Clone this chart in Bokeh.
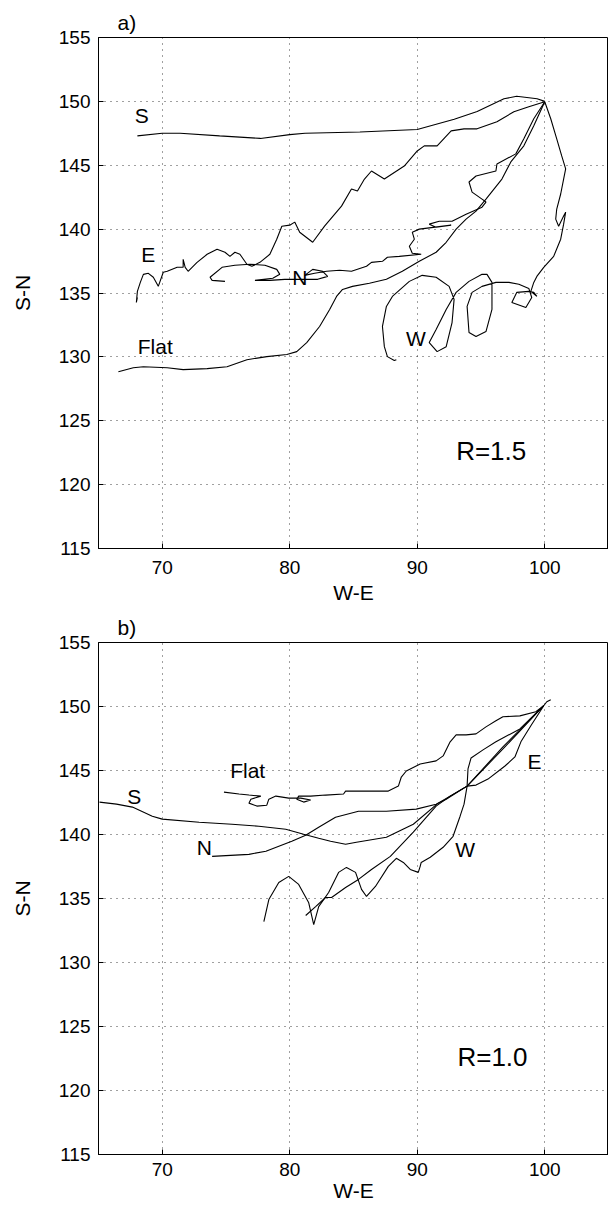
from bokeh.plotting import figure
from bokeh.layouts import column
from bokeh.models import Range1d, FixedTicker
from bokeh.embed import file_html
from bokeh.resources import INLINE
from bokeh.core.properties import value

FONT = "Liberation Sans"
X_TICKS = [70, 80, 90, 100]
Y_TICKS = [115, 120, 125, 130, 135, 140, 145, 150, 155]
X_RANGE = (65, 105)
Y_RANGE = (115, 155)

# ---------------- panel a) R=1.5 : trajectories (W-E, S-N) ----------------
a_S = [(100.0, 150.0), (99.4, 150.2), (97.8, 150.4), (96.8, 150.2), (94.7, 149.2), (92.9, 148.6),
       (90.0, 147.8), (85.5, 147.6), (81.2, 147.5), (80.0, 147.4), (77.7, 147.1), (74.5, 147.3),
       (71.4, 147.5), (70.0, 147.5), (68.05, 147.3)]
a_E = [(100.0, 149.97), (98.75, 149.58), (97.58, 149.19), (96.25, 148.40), (94.69, 147.85), (93.67, 147.85),
       (92.66, 147.69), (91.56, 146.52), (90.55, 146.52), (90.0, 146.12), (88.98, 144.94), (87.42, 143.92),
       (86.41, 144.55), (85.86, 143.92), (85.31, 142.98), (84.84, 143.14), (84.06, 141.80), (82.73, 140.23),
       (81.80, 138.97), (80.78, 139.76), (80.39, 140.55), (80.0, 140.31), (79.38, 140.23), (78.98, 139.21),
       (78.44, 138.03), (77.66, 137.40), (77.03, 137.09), (76.64, 137.25), (76.09, 138.03), (75.70, 138.19),
       (75.31, 137.87), (74.92, 138.19), (74.30, 138.42), (73.52, 138.03), (72.73, 137.40), (72.03, 136.70),
       (71.80, 137.01), (71.64, 137.64), (71.64, 137.01), (71.17, 137.01), (70.39, 136.70), (70.08, 136.62),
       (69.69, 135.52), (69.30, 136.23), (68.91, 136.54), (68.52, 136.46), (68.28, 135.83), (68.05, 135.13),
       (67.97, 134.26), (68.05, 134.65)]
a_N = [(100.0, 149.97), (99.14, 148.64), (98.36, 147.07), (97.73, 145.89), (96.25, 145.10), (96.17, 144.55),
       (94.61, 144.16), (94.06, 143.69), (94.30, 142.90), (95.08, 142.35), (95.39, 142.12), (95.08, 141.72),
       (93.83, 141.17), (92.73, 140.62), (91.72, 140.62), (90.94, 140.39), (91.48, 140.15), (92.66, 140.31),
       (90.16, 140.0), (89.61, 139.76), (89.77, 139.21), (89.38, 138.66), (89.61, 138.11), (90.31, 138.03),
       (88.59, 137.87), (87.66, 137.80), (87.27, 137.48), (86.41, 137.40), (86.02, 137.09), (84.84, 136.70),
       (83.91, 136.78), (82.89, 136.70), (81.95, 136.54), (81.17, 136.38), (81.80, 136.85), (82.58, 136.70),
       (82.97, 136.30), (82.19, 136.07), (80.78, 136.07), (79.61, 136.07), (78.44, 135.99), (77.27, 135.99),
       (78.67, 136.15), (79.22, 136.46), (78.98, 136.85), (78.05, 137.17), (76.88, 137.25), (75.70, 137.17),
       (74.69, 137.01), (73.75, 136.23), (73.91, 135.99), (74.92, 135.91)]
a_Flat = [(100.0, 149.97), (99.14, 148.09), (98.36, 146.52), (97.34, 145.26), (96.64, 143.92), (95.39, 142.35),
          (94.61, 141.41), (93.83, 140.78), (93.05, 140.0), (92.27, 138.97), (91.48, 138.19), (90.16, 137.48),
          (88.83, 136.70), (87.58, 136.07), (86.25, 135.76), (84.92, 135.52), (84.14, 135.28), (83.67, 134.73),
          (83.13, 133.71), (82.34, 132.38), (81.33, 131.12), (80.55, 130.41), (79.77, 130.18), (78.20, 130.02),
          (76.64, 129.78), (75.08, 129.23), (73.52, 129.08), (71.64, 129.0), (70.39, 129.15), (68.52, 129.23),
          (67.73, 129.15), (66.56, 128.84)]
a_W = [(100.0, 149.97), (100.47, 148.64), (100.94, 147.07), (101.33, 145.73), (101.64, 144.71), (101.48, 143.92),
       (101.25, 142.75), (100.94, 141.57), (100.86, 140.78), (101.09, 140.23), (101.48, 141.02), (101.64, 141.33),
       (101.48, 140.39), (101.25, 139.21), (100.70, 137.87), (99.92, 137.01), (99.38, 136.30), (99.14, 135.83),
       (98.91, 135.13), (99.38, 134.73), (99.14, 135.05), (98.75, 135.13), (97.81, 135.05), (97.42, 134.26),
       (98.52, 133.87), (98.98, 134.65), (98.75, 135.36), (97.97, 135.68), (97.19, 135.83), (96.17, 135.83),
       (95.08, 135.52), (94.30, 135.05), (93.91, 133.95), (94.06, 131.91), (94.61, 131.59), (95.39, 131.98),
       (95.86, 133.71), (95.86, 135.83), (95.47, 136.46), (95.08, 136.46), (94.06, 135.91), (93.05, 135.05),
       (92.27, 133.71), (91.48, 132.14), (90.94, 131.12), (91.56, 130.41), (92.27, 130.80), (92.73, 132.69),
       (92.89, 134.50), (92.50, 135.52), (91.48, 136.23), (90.39, 136.38), (89.38, 135.91), (88.05, 134.73),
       (87.58, 133.95), (87.27, 132.38), (87.42, 130.80), (87.66, 130.02), (88.20, 129.71), (88.36, 129.78)]

a_label_text = ["S", "E", "N", "Flat", "W"]
a_label_x = [68.4, 68.9, 80.8, 69.45, 89.9]
a_label_y = [148.9, 138.0, 136.2, 130.8, 131.4]
a_note = ("R=1.5", 95.8, 122.6)

# ---------------- panel b) R=1.0 ----------------
b_S = [(100.47, 150.53), (100.16, 150.37), (99.92, 150.06), (96.95, 146.92), (93.91, 143.78), (91.64, 142.45),
       (89.69, 140.80), (87.58, 139.78), (85.23, 139.39), (84.38, 139.24), (83.20, 139.47), (82.27, 139.71),
       (81.09, 140.02), (79.69, 140.41), (77.58, 140.65), (75.47, 140.80), (72.89, 140.96), (70.0, 141.20),
       (69.22, 141.43), (67.66, 142.14), (66.41, 142.37), (65.08, 142.53)]
b_N = [(99.92, 150.06), (96.72, 146.84), (93.91, 143.78), (92.27, 142.76), (91.48, 142.37), (89.92, 141.98),
       (87.58, 141.82), (85.39, 141.82), (83.59, 141.35), (82.27, 140.57), (81.25, 139.94), (80.16, 139.47),
       (78.13, 138.69), (76.80, 138.45), (73.91, 138.29)]
b_E = [(99.92, 150.06), (98.91, 148.49), (98.13, 147.24), (97.66, 146.06), (96.88, 145.35), (95.55, 144.33),
       (94.61, 143.86), (93.91, 143.78), (92.58, 143.0), (91.48, 142.22), (89.69, 140.18), (87.89, 138.29),
       (86.41, 137.27), (85.39, 136.49), (84.38, 135.86), (83.28, 135.08), (82.81, 135.08), (82.03, 134.37),
       (81.25, 133.67)]
b_W = [(99.92, 150.06), (98.05, 148.25), (96.17, 147.24), (95.16, 146.61), (94.22, 145.98), (93.98, 145.12),
       (93.91, 143.78), (93.67, 142.37), (93.36, 141.43), (92.81, 139.86), (92.03, 139.0), (91.02, 138.22),
       (90.31, 137.82), (90.23, 137.51), (90.08, 137.04), (89.45, 137.27), (88.91, 137.82), (88.36, 138.14),
       (87.73, 137.51), (86.72, 135.94), (86.02, 135.16), (85.63, 135.71), (85.16, 137.04), (84.45, 137.43),
       (83.83, 137.04), (83.05, 135.47), (82.27, 134.37), (81.88, 132.96), (81.48, 134.69), (80.70, 136.10),
       (79.92, 136.73), (79.14, 136.25), (78.36, 134.92), (77.97, 133.20)]
b_Flat = [(99.92, 150.06), (99.30, 149.59), (98.05, 149.27), (96.72, 149.20), (96.17, 148.88), (95.39, 148.41),
          (94.61, 147.86), (93.83, 147.78), (93.05, 147.78), (92.58, 147.24), (92.03, 146.14), (91.48, 145.75),
          (90.23, 145.51), (89.14, 144.96), (88.75, 144.49), (88.52, 143.78), (87.73, 143.39), (86.33, 143.39),
          (84.38, 143.39), (84.22, 143.16), (82.81, 143.08), (81.64, 143.0), (80.70, 143.0), (80.55, 142.76),
          (81.09, 142.53), (81.64, 142.69), (80.86, 142.84), (79.92, 142.84), (78.91, 143.0), (78.36, 142.76),
          (78.20, 142.29), (77.42, 142.22), (76.80, 142.45), (76.95, 142.76), (77.73, 143.0), (76.80, 143.08),
          (76.02, 143.16), (74.84, 143.31)]

b_label_text = ["S", "Flat", "N", "E", "W"]
b_label_x = [67.8, 76.7, 73.3, 99.2, 93.75]
b_label_y = [143.0, 145.0, 139.0, 145.7, 138.8]
b_note = ("R=1.0", 95.9, 122.6)


def panel(tag, tracks, lab_x, lab_y, lab_t, note, height, top, tick_standoff, label_standoff):
    p = figure(width=608, height=height, x_range=Range1d(*X_RANGE), y_range=Range1d(*Y_RANGE),
               output_backend="svg", toolbar_location=None, title=tag,
               min_border_left=98, min_border_right=0, min_border_top=top, min_border_bottom=0)
    p.title.align = "left"
    p.title.offset = 19
    p.title.standoff = 7
    p.title.text_font = FONT
    p.title.text_font_size = "21px"
    p.title.text_font_style = "normal"
    p.title.text_color = "black"

    p.xaxis.ticker = FixedTicker(ticks=X_TICKS)
    p.yaxis.ticker = FixedTicker(ticks=Y_TICKS)
    p.xgrid.ticker = FixedTicker(ticks=X_TICKS)
    p.ygrid.ticker = FixedTicker(ticks=Y_TICKS)
    p.xaxis.axis_label = "W-E"
    p.yaxis.axis_label = "S-N"
    for ax in (p.xaxis, p.yaxis):
        ax.major_tick_in = 5
        ax.major_tick_out = 0
        ax.minor_tick_in = 0
        ax.minor_tick_out = 0
        ax.axis_line_color = "black"
        ax.major_tick_line_color = "black"
        ax.major_label_text_font = FONT
        ax.major_label_text_font_size = "19px"
        ax.major_label_text_color = "black"
        ax.axis_label_text_font = FONT
        ax.axis_label_text_font_size = "21px"
        ax.axis_label_text_font_style = "normal"
        ax.axis_label_text_color = "black"
    p.xaxis.major_label_standoff = tick_standoff
    p.xaxis.axis_label_standoff = label_standoff
    p.yaxis.major_label_standoff = 8
    p.yaxis.axis_label_standoff = 22

    p.grid.grid_line_color = "black"
    p.grid.grid_line_dash = "1 5"
    p.grid.grid_line_width = 1
    p.grid.grid_line_alpha = 0.75
    p.outline_line_color = "black"
    p.outline_line_width = 1
    p.outline_line_alpha = 1
    p.background_fill_color = "white"
    p.border_fill_color = "white"

    for tr in tracks:
        xs, ys = zip(*tr)
        p.line(list(xs), list(ys), line_color="black", line_width=1.1)

    p.text(x=lab_x, y=lab_y, text=lab_t, text_font=value(FONT), text_font_size=value("21px"),
           text_align="center", text_baseline="middle", text_color="black")
    p.text(x=[note[1]], y=[note[2]], text=[note[0]], text_font=value(FONT), text_font_size=value("26px"),
           text_align="center", text_baseline="middle", text_color="black")
    return p


pa = panel("a)", [a_S, a_E, a_N, a_Flat, a_W], a_label_x, a_label_y, a_label_text, a_note, 606, 37, 12, 4)
pb = panel("b)", [b_S, b_N, b_E, b_W, b_Flat], b_label_x, b_label_y, b_label_text, b_note, 598, 36, 8, 0)

layout = column(pa, pb)
open("out.html", "w").write(file_html(layout, INLINE))
